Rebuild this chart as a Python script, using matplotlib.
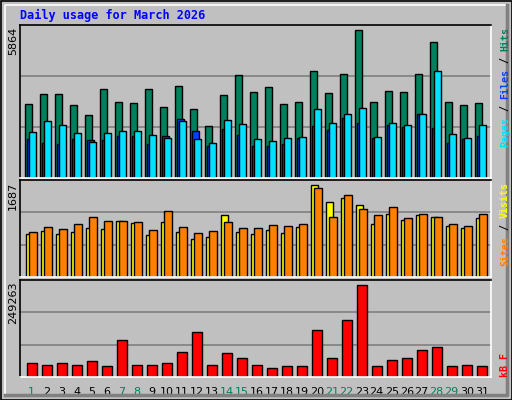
import matplotlib
matplotlib.use("Agg")
import matplotlib.pyplot as plt
import matplotlib.patches as mpatches
from matplotlib.transforms import offset_copy
import numpy as np

days = list(range(1, 32))
weekend = [1, 7, 8, 14, 15, 21, 22, 28, 29]
hits = [2931, 3327, 3327, 2891, 2495, 3525, 3010, 2970, 3525, 2812, 3644, 2733, 2060, 3288, 4080, 3406,
        3604, 2931, 3010, 4238, 3367, 4120, 5864, 3010, 3446, 3406, 4120, 5388, 3010, 2891, 2970]
files = [1544, 1386, 1346, 1544, 1505, 1505, 1663, 1663, 1346, 1663, 2336, 1861, 1267, 1940, 1703, 1267,
         1267, 1346, 1584, 2059, 1901, 2376, 2178, 1584, 2099, 2020, 2534, 1980, 1386, 1544, 1663]
pages = [1822, 2257, 2099, 1782, 1426, 1782, 1861, 1861, 1703, 1584, 2257, 1544, 1386, 2297, 2138, 1544,
         1465, 1584, 1624, 2732, 2178, 2534, 2772, 1624, 2178, 2099, 2534, 4237, 1742, 1584, 2099]
visits = [788, 843, 788, 825, 898, 880, 1027, 990, 770, 1008, 825, 697, 733, 1137, 825, 788,
          862, 807, 917, 1687, 1375, 1449, 1320, 972, 1155, 1045, 1137, 1100, 935, 898, 1082]
sites = [825, 917, 880, 972, 1100, 1027, 1027, 1008, 862, 1210, 917, 807, 843, 1008, 898, 898,
         953, 935, 972, 1632, 1100, 1504, 1247, 1137, 1284, 1082, 1155, 1100, 972, 935, 1155]
kbytes = [39117, 33659, 39117, 33659, 44575, 30930, 99157, 33659, 33659, 39117, 66408, 120990, 33659,
          63679, 52763, 33659, 25472, 30930, 30930, 126448, 52763, 153739, 249263, 30930, 47304, 52763,
          71866, 80054, 30930, 33659, 30930]

W, H = 512, 400
BG = "#C0C0C0"
fig = plt.figure(figsize=(W / 100, H / 100), dpi=100, facecolor=BG)

def px_axes(x0, y0, x1, y1):
    return fig.add_axes([x0 / W, 1 - y1 / H, (x1 - x0) / W, (y1 - y0) / H])

# border
fig.patches.append(mpatches.Rectangle((0.5 / W, 0.5 / H), 1 - 1 / W, 1 - 1 / H, transform=fig.transFigure,
                                      fill=False, edgecolor="black", lw=1.2))
fig.lines.append(plt.Line2D([5 / W, 5 / W, 507 / W], [5 / H, 1 - 5 / H, 1 - 5 / H], transform=fig.transFigure,
                            color="white", lw=1.2))
fig.lines.append(plt.Line2D([5 / W, 507 / W, 507 / W], [5 / H, 5 / H, 1 - 5 / H], transform=fig.transFigure,
                            color="#808080", lw=2.5))

fig.text(20 / W, 1 - 15 / H, "Daily usage for March 2026", color="#0000FF", fontsize=8.5,
         family="DejaVu Sans Mono", weight="bold", va="center", ha="left")

x = np.array(days)
xl = (0.22, 31.62)

def setup(ax, top):
    ax.set_facecolor(BG)
    ax.set_xlim(*xl)
    ax.set_ylim(0, top)
    ax.set_xticks([]); ax.set_yticks([])
    for f in (1 / 3, 2 / 3):
        ax.axhline(top * f, color="#808080", lw=1.2, zorder=0)
    for s in ax.spines.values():
        s.set_color("black"); s.set_linewidth(1.2)
    ax.spines["right"].set_color("white"); ax.spines["bottom"].set_color("white")

ek = dict(edgecolor="black", linewidth=1, align="edge")
ax1 = px_axes(20, 25, 491, 178)
setup(ax1, 5864 * 153 / 148)
ax1.bar(x - 0.445, hits, width=0.47, color="#00805C", **ek)
ax1.bar(x - 0.31, files, width=0.45, color="#0040FF", **ek)
ax1.bar(x - 0.175, pages, width=0.49, color="#00E0FF", **ek)

ax2 = px_axes(20, 180, 491, 277)
setup(ax2, 1687 * 97 / 92)
ax2.bar(x - 0.4, visits, width=0.5, color="#FFFF00", **ek)
ax2.bar(x - 0.155, sites, width=0.49, color="#FF8000", **ek)

ax3 = px_axes(20, 280, 491, 377)
setup(ax3, 249263 * 97 / 92)
ax3.bar(x - 0.335, kbytes, width=0.67, color="#FF0000", **ek)

for d in days:
    ax3.text(d, -0.1, str(d), transform=ax3.get_xaxis_transform(), ha="center", va="top",
             fontsize=8, color="#00805C" if d in weekend else "black")

for ax, lab in ((ax1, "5864"), (ax2, "1687"), (ax3, "249263")):
    fig.text(13 / W, ax.get_position().y1 - 2 / H, lab,
             rotation=90, ha="center", va="top", fontsize=8)

fs = 7.2
cw = 0.602 * fs
def stacked(ax, pieces, top=True):
    if top:
        y0 = ax.get_position().y1 - 2 / H
        off = 0
        for txt, col in pieces:
            tr = offset_copy(fig.transFigure, fig=fig, x=0, y=-off, units="points")
            fig.text(505 / W, y0, txt, transform=tr, rotation=90, ha="center", va="top", fontsize=fs,
                     family="DejaVu Sans Mono", color=col, weight="bold")
            off += cw * len(txt)
    else:
        y0 = ax.get_position().y0
        off = 0
        for txt, col in reversed(pieces):
            tr = offset_copy(fig.transFigure, fig=fig, x=0, y=off, units="points")
            fig.text(505 / W, y0, txt, transform=tr, rotation=90, ha="center", va="bottom", fontsize=fs,
                     family="DejaVu Sans Mono", color=col, weight="bold")
            off += cw * len(txt)

stacked(ax1, [("Hits", "#00805C"), (" / ", "black"), ("Files", "#0040FF"), (" / ", "black"), ("Pages", "#00E0FF")])
stacked(ax2, [("Visits", "#FFFF00"), (" / ", "black"), ("Sites", "#FF8000")])
stacked(ax3, [("kB F", "#FF0000")], top=False)

fig.savefig("out.png", dpi=100, facecolor=BG)
